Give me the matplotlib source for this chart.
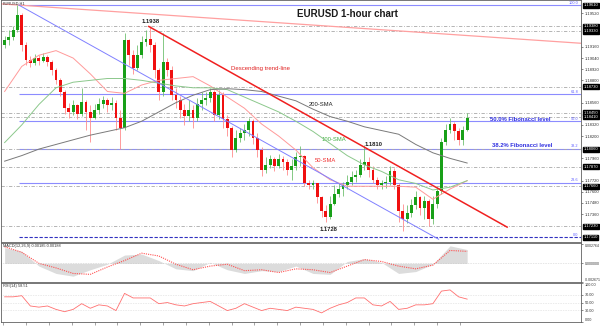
import matplotlib
matplotlib.use("Agg")
import matplotlib.pyplot as plt
import matplotlib.transforms as mtransforms
import numpy as np

plt.rcParams['font.family'] = ['Liberation Sans', 'DejaVu Sans']

# ---------------- data (3-hour candles built from the 1-hour chart) ----------------
hours_per_candle = 3
first_open = 1.1918
closes = [1.1923, 1.1927, 1.1934, 1.1950, 1.1918, 1.1902, 1.1899, 1.1904, 1.1901, 1.1905,
          1.1900, 1.1891, 1.1880, 1.1868, 1.1850, 1.1846, 1.1853, 1.1844, 1.1857, 1.1846,
          1.1840, 1.1848, 1.1855, 1.1859, 1.1853, 1.1856, 1.1840, 1.1829, 1.1923, 1.1907,
          1.1893, 1.1907, 1.1921, 1.1925, 1.1918, 1.1891, 1.1868, 1.1900, 1.1891, 1.1864,
          1.1859, 1.1848, 1.1842, 1.1848, 1.1840, 1.1855, 1.1859, 1.1861, 1.1868, 1.1843,
          1.1864, 1.1838, 1.1829, 1.1805, 1.1818, 1.1823, 1.1827, 1.1836, 1.1818, 1.1805,
          1.1784, 1.1789, 1.1795, 1.1788, 1.1795, 1.1792, 1.1784, 1.1788, 1.1797, 1.1799,
          1.1770, 1.1767, 1.1769, 1.1754, 1.1739, 1.1733, 1.1747, 1.1758, 1.1763, 1.1767,
          1.1771, 1.1776, 1.1778, 1.1789, 1.1792, 1.1784, 1.1773, 1.1767, 1.1769, 1.1771,
          1.1782, 1.1767, 1.1739, 1.1731, 1.1737, 1.1746, 1.1754, 1.1743, 1.1750, 1.1731,
          1.1747, 1.1761, 1.1814, 1.1827, 1.1833, 1.1825, 1.1816, 1.1827, 1.1840]
highs = [1.1928, 1.1934, 1.1939, 1.1961, 1.1953, 1.1921, 1.1906, 1.1908, 1.1907, 1.1909,
         1.1907, 1.1902, 1.1893, 1.1882, 1.1870, 1.1856, 1.1859, 1.1855, 1.1872, 1.1859,
         1.1853, 1.1855, 1.1861, 1.1863, 1.1861, 1.1862, 1.1859, 1.1848, 1.1931, 1.1925,
         1.1913, 1.1918, 1.1928, 1.1934, 1.1938, 1.1921, 1.1893, 1.1931, 1.1904, 1.1895,
         1.1872, 1.1863, 1.1855, 1.1859, 1.1853, 1.1861, 1.1867, 1.1868, 1.1872, 1.1870,
         1.1870, 1.1868, 1.1843, 1.1831, 1.1827, 1.1829, 1.1833, 1.1840, 1.1838, 1.1823,
         1.1808, 1.1797, 1.1800, 1.1798, 1.1801, 1.1799, 1.1795, 1.1795, 1.1803, 1.1809,
         1.1800, 1.1773, 1.1773, 1.1769, 1.1756, 1.1746, 1.1756, 1.1767, 1.1769, 1.1771,
         1.1778, 1.1782, 1.1784, 1.1795, 1.1810, 1.1797, 1.1788, 1.1776, 1.1773, 1.1777,
         1.1788, 1.1786, 1.1769, 1.1747, 1.1746, 1.1752, 1.1761, 1.1756, 1.1756, 1.1752,
         1.1756, 1.1765, 1.1818, 1.1833, 1.1840, 1.1835, 1.1829, 1.1831, 1.1845]
lows = [1.1915, 1.1918, 1.1923, 1.1932, 1.1912, 1.1897, 1.1894, 1.1897, 1.1897, 1.1900,
        1.1895, 1.1886, 1.1876, 1.1863, 1.1844, 1.1840, 1.1843, 1.1838, 1.1842, 1.1827,
        1.1814, 1.1838, 1.1844, 1.1850, 1.1846, 1.1848, 1.1827, 1.1806, 1.1827, 1.1896,
        1.1887, 1.1891, 1.1904, 1.1917, 1.1910, 1.1883, 1.1859, 1.1863, 1.1885, 1.1859,
        1.1850, 1.1840, 1.1832, 1.1836, 1.1829, 1.1836, 1.1848, 1.1853, 1.1857, 1.1836,
        1.1838, 1.1829, 1.1820, 1.1798, 1.1803, 1.1814, 1.1816, 1.1820, 1.1811, 1.1798,
        1.1777, 1.1780, 1.1786, 1.1782, 1.1786, 1.1784, 1.1778, 1.1773, 1.1784, 1.1788,
        1.1766, 1.1763, 1.1763, 1.1748, 1.1733, 1.1728, 1.1731, 1.1746, 1.1754, 1.1756,
        1.1763, 1.1767, 1.1771, 1.1776, 1.1784, 1.1776, 1.1769, 1.1763, 1.1763, 1.1764,
        1.1767, 1.1763, 1.1728, 1.1718, 1.1726, 1.1733, 1.1741, 1.1735, 1.1731, 1.1723,
        1.1725, 1.1743, 1.1758, 1.1810, 1.1823, 1.1816, 1.1810, 1.1810, 1.1825]

# moving averages sampled every 4 candles
sma_step = 4
sma50 = [1.1868, 1.1895, 1.1907, 1.1912, 1.1904, 1.1887, 1.1868, 1.1866, 1.1875, 1.1880,
         1.1882, 1.1884, 1.1874, 1.1862, 1.1850, 1.1833, 1.1820, 1.1805, 1.1786, 1.1773,
         1.1766, 1.1766, 1.1766, 1.1766, 1.1765, 1.1752, 1.1763, 1.1772]
sma100 = [1.1813, 1.1832, 1.1854, 1.1872, 1.1878, 1.1880, 1.1882, 1.1882, 1.1880, 1.1877,
          1.1874, 1.1872, 1.1872, 1.1870, 1.1862, 1.1854, 1.1846, 1.1836, 1.1825, 1.1812,
          1.1799, 1.1789, 1.1782, 1.1773, 1.1769, 1.1762, 1.1765, 1.1772]
sma200 = [1.1793, 1.1799, 1.1806, 1.1811, 1.1816, 1.1821, 1.1825, 1.1829, 1.1836, 1.1846,
          1.1856, 1.1864, 1.1870, 1.1871, 1.1870, 1.1868, 1.1863, 1.1858, 1.1849, 1.1841,
          1.1836, 1.1830, 1.1826, 1.1822, 1.1811, 1.1802, 1.1796, 1.1791]

# MACD sampled every 4 candles
macd_main = [0.00224, 0.00171, -0.00039, -0.00145, -0.00184, -0.00092, -0.00013, 0.00118,
             0.00132, 0.00039, -0.00079, -0.00105, 0.00013, -0.00092, -0.00145, -0.00105,
             -0.00118, -0.00039, -0.00145, -0.00158, 0.00026, 0.00066, 0.00013, -0.00145,
             -0.00118, -0.00013, 0.00250, 0.00197]
macd_signal = [0.00237, 0.00158, 0.0, -0.00066, -0.00145, -0.00158, -0.00053, 0.00040,
               0.00145, 0.00105, -0.00013, -0.00092, -0.00040, -0.00013, -0.00105, -0.00092,
               -0.00132, -0.00079, -0.00092, -0.00132, -0.00040, 0.00053, 0.00026, -0.00040,
               -0.00079, -0.00026, 0.00184, 0.00171]

# RSI sampled every 2 candles
rsi_step = 2
rsi = [64.7, 64.7, 67.6, 41.2, 38.2, 41.2, 32.4, 26.5, 32.4, 47.1, 35.3, 44.1, 41.2, 29.4,
       73.5, 61.8, 61.8, 61.8, 47.1, 50.0, 44.1, 41.2, 47.1, 50.0, 52.9, 41.2, 29.4, 35.3,
       47.1, 38.2, 29.4, 35.3, 32.4, 29.4, 38.2, 35.3, 32.4, 23.5, 35.3, 44.1, 50.0, 61.8,
       61.8, 44.1, 41.2, 52.9, 32.4, 35.3, 44.1, 44.1, 47.1, 79.4, 82.4, 64.7, 58.8]

# drawn objects (bar index, price)
trend_start = (102, 1.1938)
trend_end = (353, 1.1722)
channel_start = (11, 1.1961)
channel_end = (305, 1.1709)
long_line_a = (11, 1.1961)
long_line_b = (404, 1.1920)
fib_start_bar = 11
fib_low, fib_high = 1.1711, 1.1961
fib_ratios = [0.0, 0.236, 0.382, 0.5, 0.618, 1.0]
fib_names = ["0.0", "23.6", "38.2", "50.0", "61.8", "100.0"]
sr_levels = [1.1938, 1.1933, 1.1873, 1.1845, 1.1841, 1.1806, 1.1787, 1.1766, 1.1723]

tick_bar_step = 16
tick_labels = ["27 Nov 2017", "27 Nov 19:00", "28 Nov 11:00", "29 Nov 03:00", "29 Nov 19:00",
               "30 Nov 11:00", "1 Dec 03:00", "1 Dec 19:00", "4 Dec 11:00", "5 Dec 03:00",
               "5 Dec 19:00", "6 Dec 11:00", "7 Dec 03:00", "7 Dec 19:00", "8 Dec 11:00",
               "11 Dec 03:00", "11 Dec 19:00", "12 Dec 11:00", "13 Dec 03:00", "13 Dec 19:00",
               "14 Dec 11:00"]

# ---------------- figure ----------------
fig = plt.figure(figsize=(6, 3.3), dpi=100)
fig.patch.set_facecolor('white')
W = 0.9667
ax = fig.add_axes([0.002, 0.2667, W, 0.7333])
mx = fig.add_axes([0.002, 0.1455, W, 0.118], sharex=ax)
rx = fig.add_axes([0.002, 0.0242, W, 0.118], sharex=ax)

XMIN, XMAX = -1.4, 404.9
TF = 3.0  # tiny font
for a in (ax, mx, rx):
    a.set_xlim(XMIN, XMAX)
    for s in a.spines.values():
        s.set_color('#606060')
        s.set_linewidth(0.6)
    a.yaxis.tick_right()
    a.tick_params(axis='y', labelsize=TF, length=1.5, width=0.4, pad=1, colors='#303030')
    a.tick_params(axis='x', length=0)
    plt.setp(a.get_xticklabels(), visible=False)

# ---- main panel ----
closes_a = np.array(closes)
opens_a = np.concatenate([[first_open], closes_a[:-1]])
x = np.arange(len(closes)) * hours_per_candle + 1
up = closes_a >= opens_a
body_col = np.where(up, '#18a018', '#f01010')
wick_col = np.where(up, '#70c070', '#ff8c8c')

ax.set_ylim(1.1706, 1.19665)

# fibonacci levels
for r, nm in zip(fib_ratios, fib_names):
    lvl = fib_low + r * (fib_high - fib_low)
    if r == 0.0:
        ax.hlines(lvl, fib_start_bar, XMAX, colors='#3030c0', linestyles=(0, (3, 1.5)), lw=0.8, zorder=1)
    else:
        ax.hlines(lvl, fib_start_bar, XMAX, colors='#8c8cff', lw=0.8, zorder=1)
    ax.text(XMAX - 2, lvl + 0.00003, nm, fontsize=2.8, color='#6060ff', ha='right', va='bottom', zorder=5)

# support/resistance dash-dot lines
for lvl in sr_levels:
    ax.axhline(lvl, color='#a8a8a8', lw=0.6, ls=(0, (4, 2, 1, 2)), zorder=1)

# candles
ax.vlines(x, lows, highs, colors=wick_col, lw=0.6, zorder=2)
ax.bar(x, closes_a - opens_a, bottom=opens_a, width=2.0, color=body_col, lw=0, zorder=3)

# moving averages
xs = np.arange(len(sma50)) * sma_step * hours_per_candle + 1
ax.plot(xs, sma50, color='#ff9a9a', lw=0.7, zorder=4)
ax.plot(xs, sma100, color='#8cc88c', lw=0.7, zorder=4)
ax.plot(xs, sma200, color='#7a7a7a', lw=0.7, zorder=4)

# trend lines
ax.plot([trend_start[0], trend_end[0]], [trend_start[1], trend_end[1]], color='#f02020', lw=1.1, zorder=4)
ax.plot([channel_start[0], channel_end[0]], [channel_start[1], channel_end[1]], color='#8080ff', lw=0.7, zorder=4)
ax.axline(long_line_a, long_line_b, color='#ffa0a0', lw=0.9, zorder=1)

# price axis: regular ticks, skipping those hidden behind the level boxes
box_levels = sr_levels + [fib_low, fib_high]
yt = [v for v in np.arange(1.1712, 1.1966, 0.0012)
      if min(abs(v - b) for b in box_levels) > 0.00055]
ax.set_yticks(yt)
ax.set_yticklabels([f"{v:.5f}" for v in yt])
blend = mtransforms.blended_transform_factory(ax.transAxes, ax.transData)
for lvl in box_levels:
    ax.text(1.004, lvl, f"{lvl:.5f}", transform=blend, fontsize=TF, color='white', ha='left',
            va='center', bbox=dict(boxstyle='square,pad=0.12', fc='black', ec='black'), zorder=6, clip_on=False)

# annotations
ax.text(0.597, 0.942, "EURUSD 1-hour chart", transform=ax.transAxes, fontsize=7, fontweight='bold',
        ha='center', va='center', color='#1a1a1a')
ax.text(0.003, 0.995, "EURUSD,H1", transform=ax.transAxes, fontsize=2.8, ha='left', va='top', color='#303030')
ax.text(103.5, 1.19435, "1.1938", fontsize=4.2, fontweight='bold', ha='center', va='center', color='#202020')
ax.text(180.4, 1.18926, "Descending trend-line", fontsize=4.3, ha='center', va='center', color='#e02020')
ax.text(222.4, 1.18540, "200-SMA", fontsize=4.2, ha='center', va='center', color='#202020')
ax.text(231.5, 1.18166, "100-SMA", fontsize=4.2, ha='center', va='center', color='#40b040')
ax.text(225.9, 1.17941, "50-SMA", fontsize=4.2, ha='center', va='center', color='#f03030')
ax.text(259.4, 1.18113, "1.1810", fontsize=4.2, fontweight='bold', ha='center', va='center', color='#202020')
ax.text(228.0, 1.17192, "1.1728", fontsize=4.2, fontweight='bold', ha='center', va='center', color='#202020')
ax.text(362.0, 1.18380, "50.0% Fibonacci level", fontsize=4.2, fontweight='bold', ha='center', va='center', color='#3030e0')
ax.text(363.6, 1.18102, "38.2% Fibonacci level", fontsize=4.2, fontweight='bold', ha='center', va='center', color='#3030e0')

# ---- MACD ----
xm = np.arange(len(macd_main)) * sma_step * hours_per_candle + 1
mx.set_ylim(-0.002671, 0.0029)
mx.fill_between(xm, macd_main, 0, color='#dcdcdc', lw=0, zorder=1)
mx.plot(xm, macd_signal, color='#ff5050', lw=0.8, ls=(0, (1, 1)), zorder=2)
mx.axhline(0, color='#b0b0b0', lw=0.4, ls=(0, (1, 2)))
mx.set_yticks([0.002764, 0.0, -0.002671])
mx.set_yticklabels(["0.002764", "0.000000", "-0.002671"])
mx.tick_params(axis='y', labelsize=2.5)
mlabs = mx.get_yticklabels()
mlabs[0].set_va('top')
mlabs[2].set_va('bottom')
mx.text(0.003, 0.97, "MACD(12,26,9) 0.00185 0.00188", transform=mx.transAxes, fontsize=2.8,
        ha='left', va='top', color='#303030')

# ---- RSI ----
xr = np.arange(len(rsi)) * rsi_step * hours_per_candle + 1
rx.set_ylim(0, 100)
for lv in (30, 50, 70):
    rx.axhline(lv, color='#c0c0c0', lw=0.4, ls=(0, (1, 2)))
rx.plot(xr, rsi, color='#ff7070', lw=0.6)
rx.set_yticks([100, 70, 50, 30, 0])
rx.set_yticklabels(["100.00", "70.00", "50.00", "30.00", "0.00"])
rx.tick_params(axis='y', labelsize=2.7)
rlabs = rx.get_yticklabels()
rlabs[0].set_va('top')
rlabs[4].set_va('bottom')
rx.text(0.003, 0.97, "RSI(14) 58.51", transform=rx.transAxes, fontsize=2.8, ha='left', va='top', color='#303030')

# time axis
tb = np.arange(len(tick_labels)) * tick_bar_step
rx.set_xticks(tb)
rx.tick_params(axis='x', length=2, width=0.4, colors='#606060', direction='out')
rx.set_xticklabels(tick_labels)
for lab in rx.get_xticklabels():
    lab.set_visible(True)
    lab.set_fontsize(3.0)
    lab.set_ha('left')
    lab.set_color('#303030')
rx.tick_params(axis='x', pad=0.8)

fig.savefig("out.png", dpi=100, facecolor='white')
